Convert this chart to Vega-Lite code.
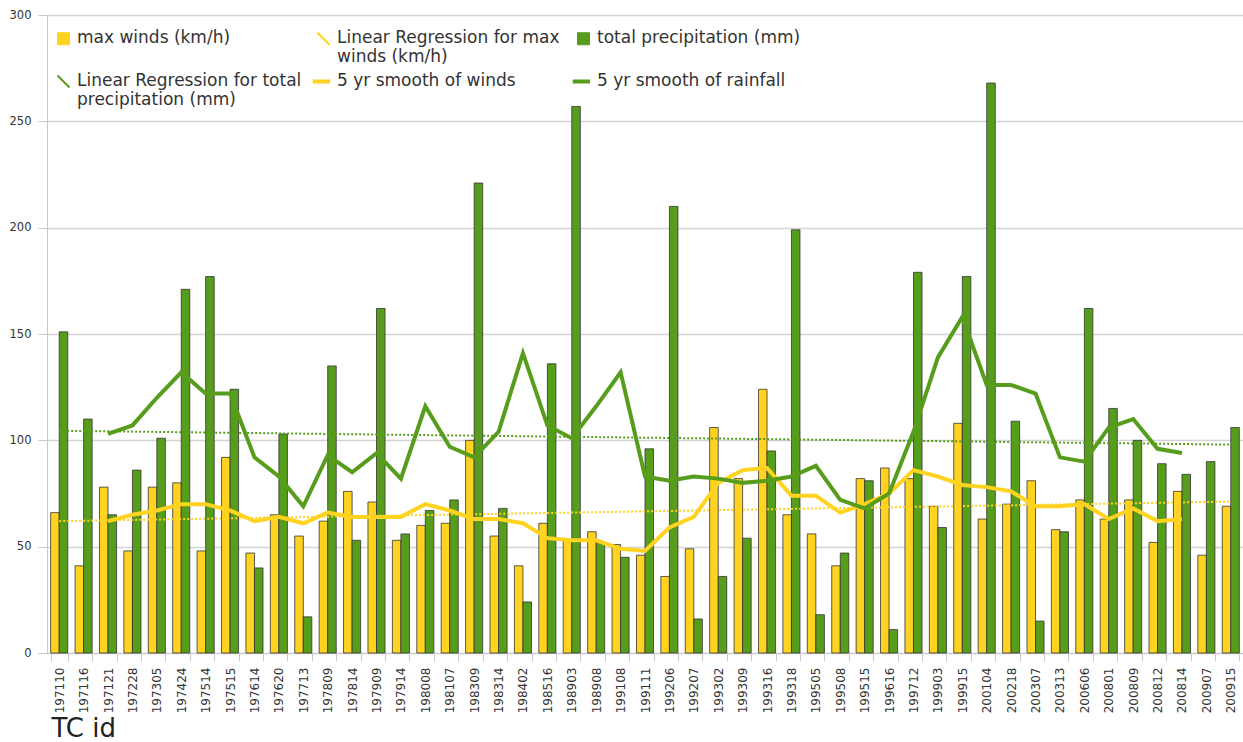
{
  "$schema": "https://vega.github.io/schema/vega-lite/v6.json",
  "width": 1196,
  "height": 638,
  "autosize": {"type": "none"},
  "padding": {"left": 47, "top": 15, "right": 0, "bottom": 89},
  "background": "white",
  "config": {
    "font": "DejaVu Sans",
    "view": {"stroke": null}
  },
  "datasets": {
    "tc": [
      {"id": "197110", "wind": 66, "rain": 151, "wind5": null, "rain5": null},
      {"id": "197116", "wind": 41, "rain": 110, "wind5": null, "rain5": null},
      {"id": "197121", "wind": 78, "rain": 65, "wind5": 62, "rain5": 103},
      {"id": "197228", "wind": 48, "rain": 86, "wind5": 65, "rain5": 107},
      {"id": "197305", "wind": 78, "rain": 101, "wind5": 67, "rain5": 120},
      {"id": "197424", "wind": 80, "rain": 171, "wind5": 70, "rain5": 132},
      {"id": "197514", "wind": 48, "rain": 177, "wind5": 70, "rain5": 122},
      {"id": "197515", "wind": 92, "rain": 124, "wind5": 67, "rain5": 122},
      {"id": "197614", "wind": 47, "rain": 40, "wind5": 62, "rain5": 92},
      {"id": "197620", "wind": 65, "rain": 103, "wind5": 64, "rain5": 83},
      {"id": "197713", "wind": 55, "rain": 17, "wind5": 61, "rain5": 69},
      {"id": "197809", "wind": 62, "rain": 135, "wind5": 66, "rain5": 93},
      {"id": "197814", "wind": 76, "rain": 53, "wind5": 64, "rain5": 85},
      {"id": "197909", "wind": 71, "rain": 162, "wind5": 64, "rain5": 94},
      {"id": "197914", "wind": 53, "rain": 56, "wind5": 64, "rain5": 82},
      {"id": "198008", "wind": 60, "rain": 67, "wind5": 70, "rain5": 116},
      {"id": "198107", "wind": 61, "rain": 72, "wind5": 67, "rain5": 97},
      {"id": "198309", "wind": 100, "rain": 221, "wind5": 63, "rain5": 92},
      {"id": "198314", "wind": 55, "rain": 68, "wind5": 63, "rain5": 104},
      {"id": "198402", "wind": 41, "rain": 24, "wind5": 61, "rain5": 141},
      {"id": "198516", "wind": 61, "rain": 136, "wind5": 54, "rain5": 107},
      {"id": "198903", "wind": 53, "rain": 257, "wind5": 53, "rain5": 101},
      {"id": "198908", "wind": 57, "rain": 52, "wind5": 53, "rain5": 116},
      {"id": "199108", "wind": 51, "rain": 45, "wind5": 49, "rain5": 132},
      {"id": "199111", "wind": 46, "rain": 96, "wind5": 48, "rain5": 83},
      {"id": "199206", "wind": 36, "rain": 210, "wind5": 59, "rain5": 81},
      {"id": "199207", "wind": 49, "rain": 16, "wind5": 64, "rain5": 83},
      {"id": "199302", "wind": 106, "rain": 36, "wind5": 80, "rain5": 82},
      {"id": "199309", "wind": 82, "rain": 54, "wind5": 86, "rain5": 80},
      {"id": "199316", "wind": 124, "rain": 95, "wind5": 87, "rain5": 81},
      {"id": "199318", "wind": 65, "rain": 199, "wind5": 74, "rain5": 83},
      {"id": "199505", "wind": 56, "rain": 18, "wind5": 74, "rain5": 88},
      {"id": "199508", "wind": 41, "rain": 47, "wind5": 66, "rain5": 72},
      {"id": "199515", "wind": 82, "rain": 81, "wind5": 70, "rain5": 68},
      {"id": "199616", "wind": 87, "rain": 11, "wind5": 75, "rain5": 75},
      {"id": "199712", "wind": 82, "rain": 179, "wind5": 86, "rain5": 104},
      {"id": "199903", "wind": 69, "rain": 59, "wind5": 83, "rain5": 139},
      {"id": "199915", "wind": 108, "rain": 177, "wind5": 79, "rain5": 158},
      {"id": "200104", "wind": 63, "rain": 268, "wind5": 78, "rain5": 126},
      {"id": "200218", "wind": 70, "rain": 109, "wind5": 76, "rain5": 126},
      {"id": "200307", "wind": 81, "rain": 15, "wind5": 69, "rain5": 122},
      {"id": "200313", "wind": 58, "rain": 57, "wind5": 69, "rain5": 92},
      {"id": "200606", "wind": 72, "rain": 162, "wind5": 70, "rain5": 90},
      {"id": "200801", "wind": 63, "rain": 115, "wind5": 63, "rain5": 106},
      {"id": "200809", "wind": 72, "rain": 100, "wind5": 68, "rain5": 110},
      {"id": "200812", "wind": 52, "rain": 89, "wind5": 62, "rain5": 96},
      {"id": "200814", "wind": 76, "rain": 84, "wind5": 63, "rain5": 94},
      {"id": "200907", "wind": 46, "rain": 90, "wind5": null, "rain5": null},
      {"id": "200915", "wind": 69, "rain": 106, "wind5": null, "rain5": null}
    ],
    "reg": [
      {"id": "197110", "series": "windReg", "value": 62},
      {"id": "200915", "series": "windReg", "value": 71.2},
      {"id": "197110", "series": "rainReg", "value": 104.5},
      {"id": "200915", "series": "rainReg", "value": 98}
    ]
  },
  "encoding": {
    "color": {
      "field": "series", "type": "nominal",
      "scale": {
        "domain": ["wind", "windReg", "rain", "rainReg", "wind5", "rain5"],
        "range": ["#ffd320", "#ffd320", "#579d1c", "#579d1c", "#ffd320", "#579d1c"]
      },
      "legend": {
        "orient": "none", "legendX": 8, "legendY": 15,
        "direction": "horizontal", "columns": 3, "title": null, "gridAlign": "all",
        "padding": 0, "columnPadding": -3, "rowPadding": 6,
        "labelFont": "DejaVu Sans", "labelFontSize": 17, "labelColor": "#333333", "labelLimit": 360,
        "labelOffset": 5, "labelBaseline": "top",
        "symbolSize": 144,
        "labelExpr": "datum.value == 'wind' ? ['max winds (km/h)', ''] : datum.value == 'windReg' ? ['Linear Regression for max', 'winds (km/h)'] : datum.value == 'rain' ? [' total precipitation (mm)', ''] : datum.value == 'rainReg' ? ['Linear Regression for  total', 'precipitation (mm)'] : datum.value == 'wind5' ? ['5 yr smooth of winds', ''] : ['5 yr smooth of rainfall', '']",
        "encode": {
          "symbols": {
            "update": {
              "shape": {"signal": "(datum.value == 'wind' || datum.value == 'rain') ? 'square' : ((datum.value == 'windReg' || datum.value == 'rainReg') ? 'M-1,-1L1,1' : 'M-1.8,0L1.1,0')"},
              "fill": {"signal": "datum.value == 'wind' ? '#ffd320' : (datum.value == 'rain' ? '#579d1c' : 'transparent')"},
              "stroke": {"signal": "(datum.value == 'wind' || datum.value == 'rain') ? '#333333' : ((datum.value == 'windReg' || datum.value == 'wind5') ? '#ffd320' : '#579d1c')"},
              "strokeWidth": {"signal": "(datum.value == 'wind' || datum.value == 'rain') ? 1 : ((datum.value == 'windReg' || datum.value == 'rainReg') ? 2 : 4)"}
            }
          },
          "labels": {
            "update": {
              "dy": {"value": -9}
            }
          }
        }
      }
    }
  },
  "layer": [
    {
      "data": {"name": "tc"},
      "transform": [{"fold": ["wind", "rain"], "as": ["series", "value"]}],
      "mark": {"type": "bar", "stroke": "#333333", "strokeWidth": 0.8},
      "encoding": {
        "x": {
          "field": "id", "type": "nominal", "sort": null,
          "scale": {"paddingInner": 0.3, "paddingOuter": 0.15},
          "axis": {
            "title": "TC id",
            "titleFont": "DejaVu Sans", "titleFontSize": 26, "titleFontWeight": "normal", "titleColor": "#222222",
            "titleAnchor": "start", "titleAlign": "left", "titleBaseline": "alphabetic", "titleX": 4, "titleY": 83,
            "labelAngle": -90, "labelFontSize": 12, "labelColor": "#333333", "labelPadding": 6,
            "tickBand": "extent", "tickSize": 8, "tickColor": "#c8c8c8", "tickWidth": 1,
            "domainColor": "#c8c8c8", "grid": false
          }
        },
        "xOffset": {"field": "series", "scale": {"domain": ["wind", "rain"]}},
        "y": {
          "field": "value", "type": "quantitative",
          "scale": {"domain": [0, 300], "nice": false},
          "axis": {
            "title": null, "values": [0, 50, 100, 150, 200, 250, 300],
            "grid": true, "gridColor": "#d4d4d4", "gridWidth": 1.5,
            "domainColor": "#c8c8c8", "tickColor": "#c8c8c8", "tickSize": 9,
            "labelFontSize": 11.5, "labelColor": "#333333", "labelPadding": 7
          }
        }
      }
    },
    {
      "data": {"name": "reg"},
      "mark": {"type": "line", "strokeDash": [2, 2], "strokeWidth": 2},
      "encoding": {
        "x": {"field": "id", "type": "nominal", "sort": null},
        "y": {"field": "value", "type": "quantitative"}
      }
    },
    {
      "data": {"name": "tc"},
      "transform": [
        {"fold": ["wind5", "rain5"], "as": ["series", "value"]},
        {"filter": "isValid(datum.value)"}
      ],
      "mark": {"type": "line", "strokeWidth": 4},
      "encoding": {
        "x": {"field": "id", "type": "nominal", "sort": null},
        "y": {"field": "value", "type": "quantitative"}
      }
    }
  ]
}
